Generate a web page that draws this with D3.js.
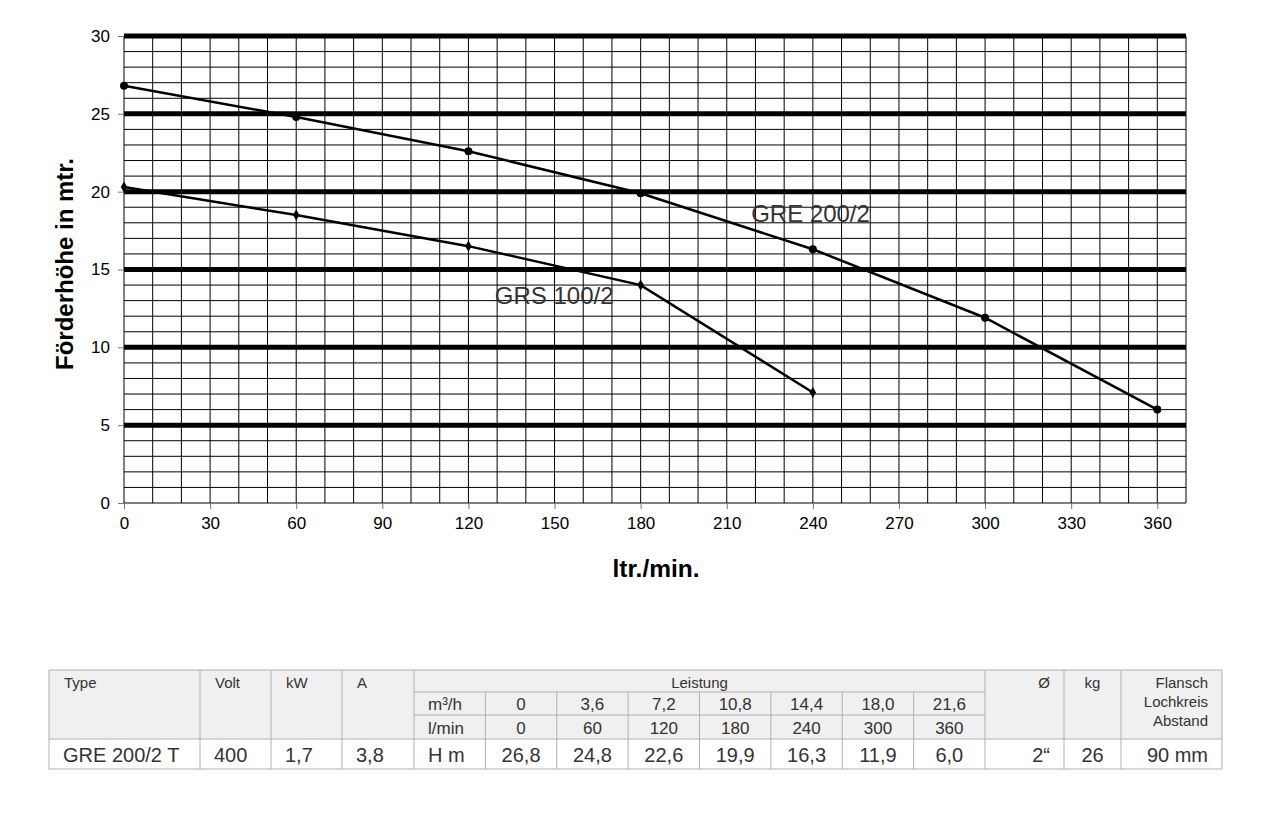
<!DOCTYPE html>
<html>
<head>
<meta charset="utf-8">
<script src="https://cdn.jsdelivr.net/npm/d3@7"></script>
<style>
  body { margin: 0; background: #fff; }
  svg { font-family: "Liberation Sans", Arial, sans-serif; }
</style>
</head>
<body>
<script>
// Kennlinien (Förderstrom in l/min, Förderhöhe in m)
var flowGRE = [0, 60, 120, 180, 240, 300, 360];
var headGRE = [26.8, 24.8, 22.6, 19.9, 16.3, 11.9, 6.0];
var flowGRS = [0, 60, 120, 180, 240];
var headGRS = [20.3, 18.5, 16.5, 14.0, 7.1];

var xTicks = [0, 30, 60, 90, 120, 150, 180, 210, 240, 270, 300, 330, 360];
var yTicks = [0, 5, 10, 15, 20, 25, 30];

// Tabelle
var tableHead = ["Type", "Volt", "kW", "A"];
var tableRow = ["GRE 200/2 T", "400", "1,7", "3,8"];
var m3h = ["0", "3,6", "7,2", "10,8", "14,4", "18,0", "21,6"];
var extraHead = ["Ø", "kg", "Flansch\nLochkreis\nAbstand"];
var extraRow = ["2“", "26", "90 mm"];

var svgWidth = 1280, svgHeight = 825;

var svg = d3.select("body").append("svg")
  .attr("width", svgWidth)
  .attr("height", svgHeight);

var xScale = d3.scaleLinear().domain([0, 370]).range([124, 1186]);
var yScale = d3.scaleLinear().domain([0, 30]).range([503, 36]);

// Gitter
var grid = svg.append("g");
grid.selectAll("line.v")
  .data(d3.range(0, 371, 10))
  .enter().append("line")
  .attr("x1", function(d) { return xScale(d); })
  .attr("x2", function(d) { return xScale(d); })
  .attr("y1", yScale(0)).attr("y2", yScale(30))
  .attr("stroke", "#000").attr("stroke-width", 1);

grid.selectAll("line.h")
  .data(d3.range(0, 31, 1).filter(function(d) { return d === 0 || d % 5 !== 0; }))
  .enter().append("line")
  .attr("x1", xScale(0)).attr("x2", xScale(370))
  .attr("y1", function(d) { return yScale(d); })
  .attr("y2", function(d) { return yScale(d); })
  .attr("stroke", "#000").attr("stroke-width", 1);

grid.selectAll("line.major")
  .data(yTicks.filter(function(d) { return d > 0; }))
  .enter().append("line")
  .attr("x1", xScale(0)).attr("x2", xScale(370))
  .attr("y1", function(d) { return yScale(d); })
  .attr("y2", function(d) { return yScale(d); })
  .attr("stroke", "#000").attr("stroke-width", 5);

// Achsen
var yAxis = svg.append("g")
  .attr("transform", "translate(" + xScale(0) + ",0)")
  .call(d3.axisLeft(yScale).tickValues(yTicks).tickSize(6).tickPadding(8));
var xAxis = svg.append("g")
  .attr("transform", "translate(0," + yScale(0) + ")")
  .call(d3.axisBottom(xScale).tickValues(xTicks).tickSize(6).tickPadding(8));
[xAxis, yAxis].forEach(function(a) {
  a.select(".domain").remove();
  a.selectAll(".tick line").attr("stroke", "#777");
  a.selectAll("text").attr("font-size", 17).attr("fill", "#000")
    .style("font-family", "'Liberation Sans', Arial, sans-serif");
});

svg.append("text")
  .attr("transform", "translate(73,264) rotate(-90)")
  .attr("text-anchor", "middle")
  .attr("font-size", 24).attr("font-weight", "bold")
  .text("Förderhöhe in mtr.");

svg.append("text")
  .attr("x", 656).attr("y", 577)
  .attr("text-anchor", "middle")
  .attr("font-size", 24.5).attr("font-weight", "bold")
  .text("ltr./min.");

// Kurven
var line = d3.line()
  .x(function(d) { return xScale(d[0]); })
  .y(function(d) { return yScale(d[1]); });

var gre = d3.zip(flowGRE, headGRE);
var grs = d3.zip(flowGRS, headGRS);

svg.append("path").datum(gre).attr("d", line)
  .attr("fill", "none").attr("stroke", "#000").attr("stroke-width", 2.5);
svg.append("path").datum(grs).attr("d", line)
  .attr("fill", "none").attr("stroke", "#000").attr("stroke-width", 2.5);

svg.selectAll("circle.gre").data(gre).enter().append("circle")
  .attr("cx", function(d) { return xScale(d[0]); })
  .attr("cy", function(d) { return yScale(d[1]); })
  .attr("r", 4).attr("fill", "#000");

svg.selectAll("path.grs").data(grs).enter().append("path")
  .attr("d", d3.symbol().type(d3.symbolDiamond).size(36))
  .attr("transform", function(d) { return "translate(" + xScale(d[0]) + "," + yScale(d[1]) + ")"; })
  .attr("fill", "#000");

svg.append("text")
  .attr("x", xScale(218.5)).attr("y", yScale(18.05))
  .attr("font-size", 24).attr("fill", "#333")
  .text("GRE 200/2");
svg.append("text")
  .attr("x", xScale(129.2)).attr("y", yScale(12.8))
  .attr("font-size", 24).attr("fill", "#333")
  .text("GRS 100/2");

// Tabelle
var tLeft = 49, tRight = 1222;
var rTop = 670, r1 = 692, r2 = 715, r3 = 739, rBot = 769;
var leftCols = [49, 200, 271, 342];
var lScale = d3.scaleBand().domain(d3.range(8)).range([414, 985]);
var rightCols = [985, 1064, 1121, 1222];
var tg = svg.append("g");
var border = "#b0b0b0";

tg.append("rect").attr("x", tLeft).attr("y", rTop)
  .attr("width", tRight - tLeft).attr("height", r3 - rTop)
  .attr("fill", "#f0f0f0");
tg.append("rect").attr("x", tLeft).attr("y", r3)
  .attr("width", tRight - tLeft).attr("height", rBot - r3)
  .attr("fill", "#fff");

function hline(x1, x2, y) {
  tg.append("line").attr("x1", x1).attr("x2", x2).attr("y1", y).attr("y2", y)
    .attr("stroke", border).attr("stroke-width", 1);
}
function vline(x, y1, y2) {
  tg.append("line").attr("x1", x).attr("x2", x).attr("y1", y1).attr("y2", y2)
    .attr("stroke", border).attr("stroke-width", 1);
}
hline(tLeft, tRight, rTop);
hline(tLeft, tRight, r3);
hline(tLeft, tRight, rBot);
hline(414, 985, r1);
hline(414, 985, r2);
leftCols.concat([414]).forEach(function(x) { vline(x, rTop, rBot); });
rightCols.forEach(function(x) { vline(x, rTop, rBot); });
d3.range(1, 8).forEach(function(i) { vline(lScale(i), r1, rBot); });

var txtColor = "#333";
tableHead.forEach(function(t, i) {
  tg.append("text").attr("x", leftCols[i] + 15).attr("y", 688)
    .attr("font-size", 15).attr("fill", txtColor).text(t);
});
tableRow.forEach(function(t, i) {
  tg.append("text").attr("x", leftCols[i] + 14).attr("y", 762)
    .attr("font-size", 20).attr("fill", txtColor).text(t);
});
tg.append("text").attr("x", 699.5).attr("y", 688).attr("text-anchor", "middle")
  .attr("font-size", 15).attr("fill", txtColor).text("Leistung");

var rowLabels = [["m³/h", 710], ["l/min", 734], ["H m", 762]];
rowLabels.forEach(function(r, i) {
  tg.append("text").attr("x", 414 + 14).attr("y", r[1])
    .attr("font-size", i === 2 ? 20 : 17).attr("fill", txtColor).text(r[0]);
});
var bw = lScale.bandwidth();
m3h.forEach(function(t, i) {
  var cx = lScale(i + 1) + bw / 2;
  tg.append("text").attr("x", cx).attr("y", 710).attr("text-anchor", "middle")
    .attr("font-size", 17).attr("fill", txtColor).text(t);
  tg.append("text").attr("x", cx).attr("y", 734).attr("text-anchor", "middle")
    .attr("font-size", 17).attr("fill", txtColor).text(flowGRE[i]);
  tg.append("text").attr("x", cx).attr("y", 762).attr("text-anchor", "middle")
    .attr("font-size", 20).attr("fill", txtColor)
    .text(headGRE[i].toFixed(1).replace(".", ","));
});

// Ø, kg, Flansch
var anchors = ["end", "middle", "end"];
extraHead.forEach(function(t, i) {
  var x0 = rightCols[i], x1 = rightCols[i + 1];
  var xx = anchors[i] === "end" ? x1 - 14 : (x0 + x1) / 2;
  t.split("\n").forEach(function(s, j) {
    tg.append("text").attr("x", xx).attr("y", 688 + j * 19)
      .attr("text-anchor", anchors[i])
      .attr("font-size", 15).attr("fill", txtColor).text(s);
  });
  tg.append("text").attr("x", xx).attr("y", 762)
    .attr("text-anchor", anchors[i])
    .attr("font-size", 20).attr("fill", txtColor).text(extraRow[i]);
});
</script>
</body>
</html>
